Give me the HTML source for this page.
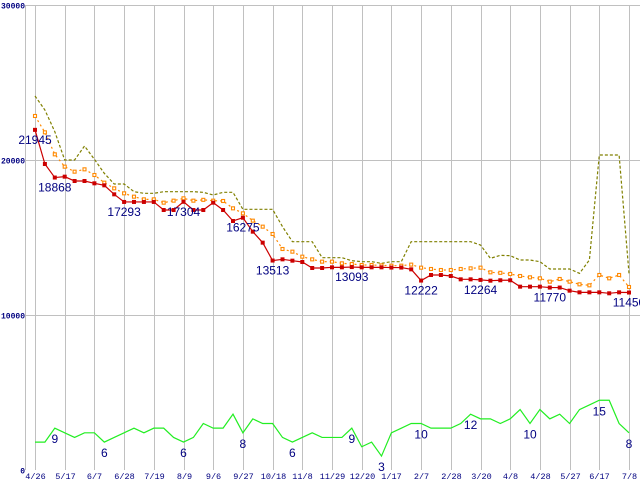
<!DOCTYPE html>
<html><head><meta charset="utf-8"><style>
body{margin:0;background:#fff;}
svg{display:block;}
</style></head><body>
<svg id="chart" width="640" height="480" xmlns="http://www.w3.org/2000/svg" font-family="Liberation Sans, sans-serif"></svg>
<script>
const xLabels=["4/26","5/17","6/7","6/28","7/19","8/9","9/6","9/27","10/18","11/8","11/29","12/20","1/17","2/7","2/28","3/20","4/8","4/28","5/27","6/17","7/8"];
const yTicks=[0,10000,20000,30000];
const minPrice=[21945,19742,18868,18925,18645,18645,18495,18366,17785,17293,17293,17293,17293,16774,16774,17304,16774,16774,17247,16774,16065,16275,15376,14667,13513,13591,13505,13419,13032,13032,13075,13075,13093,13075,13075,13075,13060,13060,12946,12222,12581,12581,12516,12301,12301,12264,12215,12240,12240,11828,11828,11828,11770,11770,11570,11462,11462,11462,11400,11462,11450];
const avgPrice=[22839,21785,20366,19570,19247,19398,19032,18538,18172,17850,17634,17462,17462,17247,17376,17527,17376,17430,17376,17355,16882,16559,16086,15699,15226,14258,14086,13763,13591,13441,13441,13333,13290,13226,13226,13200,13183,13183,13250,13054,12968,12903,12903,12968,13010,13054,12753,12720,12645,12516,12430,12366,12151,12323,12151,11979,11914,12581,12366,12581,11806];
const maxPrice=[24130,23226,21828,20000,20000,20903,20045,19140,18452,18452,17957,17850,17850,17957,17957,17957,17957,17914,17742,17914,17914,16817,16817,16817,16817,15699,14731,14731,14731,13699,13699,13699,13505,13441,13441,13333,13441,13441,14731,14731,14731,14731,14731,14731,14731,14516,13656,13850,13828,13548,13548,13441,12968,12968,12968,12688,13548,20323,20323,20323,12688];
const shops=[6,6,9,8,7,8,8,6,7,8,9,8,9,9,7,6,7,10,9,9,12,8,11,10,10,7,6,7,8,7,7,7,9,5,6,3,8,9,10,10,9,9,9,10,12,11,11,10,11,13,10,13,11,12,10,13,14,15,15,10,8];
const priceLabelIdx=[0,2,9,15,21,24,32,39,45,52,60];
const shopLabelIdx=[2,7,15,21,26,32,35,39,44,50,57,60];

const svg=document.getElementById('chart');
const NS='http://www.w3.org/2000/svg';
const X0=35,DX=9.9,Y0=470,YTOP=5;
const xs=i=>X0+i*DX;
const yP=v=>Y0-v*(Y0-YTOP)/30000;
const yS=v=>Y0-v*(Y0-YTOP)/100;
function mk(tag,attrs,parent){const e=document.createElementNS(NS,tag);for(const k in attrs)e.setAttribute(k,attrs[k]);(parent||svg).appendChild(e);return e;}

const grid=mk('g',{});


mk('line',{x1:25.5,y1:5,x2:25.5,y2:470,stroke:'#c0c0c0','stroke-width':1},grid);
yTicks.forEach(t=>{
  const y=Math.round(yP(t))+0.5;
  if(t>0){mk('line',{x1:25,y1:y,x2:640,y2:y,stroke:'#c0c0c0','stroke-width':1},grid);}
  const tx=mk('text',{x:25,y:y+3,'text-anchor':'end','font-size':8,'font-family':'Liberation Mono, monospace','font-weight':'bold',fill:'#000080'});
  tx.textContent=t;
  
  
});
xLabels.forEach((lab,k)=>{
  const x=Math.round(X0+k*29.7)+0.5;
  mk('line',{x1:x,y1:5,x2:x,y2:470,stroke:'#c0c0c0','stroke-width':1},grid);
  const tx=mk('text',{x:x,y:479,'text-anchor':'middle','font-size':8.5,'font-family':'Liberation Mono, monospace',fill:'#000080'});
  tx.textContent=lab;
  
  
});

function series(arr,yf,color,dash,name){
  const p=mk('polyline',{points:arr.map((v,i)=>xs(i)+','+yf(v)).join(' '),fill:'none',stroke:color,'stroke-width':1.2,'stroke-dasharray':dash});
  
  
}
series(maxPrice,yP,'#808000','3,2','max-price-line');
series(avgPrice,yP,'#ff8800','2,3','avg-price-line');
avgPrice.forEach((v,i)=>{
  const r=mk('rect',{x:xs(i)-1.5,y:yP(v)-1.5,width:3,height:3,fill:'#fff',stroke:'#ff8800','stroke-width':1.1});
  
  
});
series(minPrice,yP,'#cc0000','','min-price-line');
minPrice.forEach((v,i)=>{
  const r=mk('rect',{x:xs(i)-2,y:yP(v)-2,width:4,height:4,fill:'#cc0000'});
  
  
});
series(shops,yS,'#22ee22','','shop-count-line');

priceLabelIdx.forEach(i=>{
  const t=mk('text',{x:xs(i),y:yP(minPrice[i])+14,'text-anchor':'middle','font-size':12,fill:'#000080'});
  t.textContent=minPrice[i];
  
  
});
shopLabelIdx.forEach(i=>{
  const t=mk('text',{x:xs(i),y:yS(shops[i])+15,'text-anchor':'middle','font-size':12,fill:'#000080'});
  t.textContent=shops[i];
  
  
});
</script>
</body></html>
